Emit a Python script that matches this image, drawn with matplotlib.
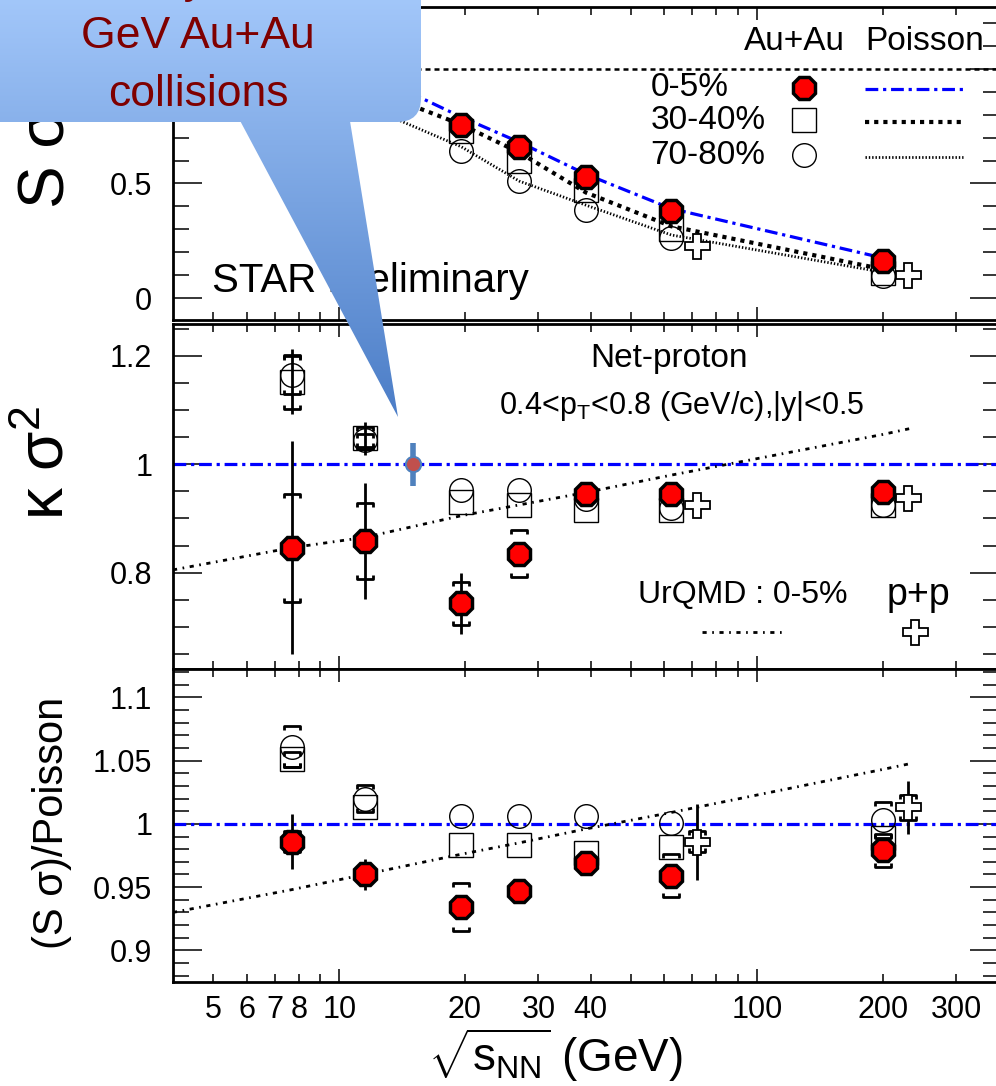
import numpy as np
import matplotlib
matplotlib.use("Agg")
import matplotlib.pyplot as plt
from matplotlib.ticker import FixedLocator, MultipleLocator, FuncFormatter, NullFormatter
from matplotlib.patches import FancyBboxPatch, Polygon
from matplotlib.colors import LinearSegmentedColormap
from matplotlib.path import Path

plt.rcParams['font.family'] = ['Liberation Sans', 'DejaVu Sans']
plt.rcParams['mathtext.fontset'] = 'custom'
plt.rcParams['mathtext.rm'] = 'Liberation Sans'
plt.rcParams['mathtext.it'] = 'Liberation Sans:italic'
plt.rcParams['mathtext.bf'] = 'Liberation Sans:bold'

# beam energies (GeV)
energy = [7.7, 11.5, 19.6, 27, 39, 62.4, 200]
pp_energy = [62.4, 200]
urqmd_energy = [4, 7.7, 11.5, 19.6, 27, 39, 62.4, 200, 236]
proj_energy = [15.0]

# S sigma
ss_0_5 = [0.97, 0.93, 0.757, 0.661, 0.530, 0.378, 0.161]
ss_30_40 = [0.95, 0.90, 0.73, 0.60, 0.47, 0.30, 0.11]
ss_70_80 = [0.92, 0.86, 0.64, 0.51, 0.383, 0.26, 0.096]
ss_pp = [0.226, 0.10]
pois_0_5 = [1.12, 0.99, 0.79, 0.68, 0.54, 0.39, 0.175]
pois_30_40 = [1.04, 0.92, 0.757, 0.635, 0.46, 0.313, 0.126]
pois_70_80 = [0.96, 0.84, 0.66, 0.51, 0.405, 0.275, 0.113]

# kappa sigma^2 (0 = no visible error)
ks_0_5 = [0.846, 0.859, 0.743, 0.835, 0.946, 0.946, 0.948]
ks_0_5_stat = [0.197, 0.107, 0.057, 0.02, 0.01, 0.01, 0.01]
ks_0_5_sys = [0.10, 0.07, 0.04, 0.043, 0, 0, 0]
ks_30_40 = [1.152, 1.048, 0.93, 0.924, 0.915, 0.915, 0.924]
ks_30_40_stat = [0.06, 0.03, 0, 0, 0, 0, 0]
ks_30_40_sys = [0.05, 0.02, 0, 0, 0, 0, 0]
ks_70_80 = [1.165, 1.044, 0.952, 0.952, 0.935, 0.92, 0.924]
ks_70_80_sys = [0.035, 0.012, 0, 0, 0, 0, 0]
ks_pp = [0.924, 0.937]
urqmd_ks = [0.805, 0.846, 0.865, 0.905, 0.925, 0.948, 0.98, 1.055, 1.067]
proj_ks = [1.0]
proj_ks_err = [0.04]

# S sigma / Poisson
sp_0_5 = [0.986, 0.960, 0.934, 0.947, 0.969, 0.959, 0.979]
sp_0_5_stat = [0.022, 0.012, 0.004, 0.004, 0.004, 0.004, 0.004]
sp_0_5_sys = [0.008, 0, 0.019, 0, 0, 0.017, 0.013]
sp_30_40 = [1.051, 1.013, 0.983, 0.983, 0.977, 0.982, 0.989]
sp_30_40_sys = [0.006, 0, 0, 0, 0, 0, 0]
sp_70_80 = [1.061, 1.020, 1.006, 1.006, 1.006, 1.001, 1.003]
sp_70_80_sys = [0.016, 0.011, 0, 0, 0, 0, 0.014]
sp_pp = [0.986, 1.013]
sp_pp_stat = [0.03, 0.021]
sp_pp_sys = [0.008, 0.01]
urqmd_sp = [0.930, 0.948, 0.960, 0.976, 0.985, 0.996, 1.009, 1.043, 1.048]

pp_x = np.array(pp_energy) * 1.15

fig = plt.figure(figsize=(9.96, 10.86), dpi=100)
W = 996.0
H = 1086.0


def add_panel(top_px, bot_px):
    return fig.add_axes([173 / W, 1 - bot_px / H, (999 - 173) / W, (bot_px - top_px) / H])


ax1 = add_panel(7, 320)
ax2 = add_panel(324, 669)
ax3 = add_panel(669, 982)

label_x = [5, 6, 7, 8, 20, 30, 40, 200, 300]
for ax in (ax1, ax2, ax3):
    ax.set_xscale('log')
    ax.set_xlim(4, 380)
    ax.xaxis.set_major_locator(FixedLocator([10, 100]))
    ax.xaxis.set_minor_locator(FixedLocator([5, 6, 7, 8, 9, 20, 30, 40, 50, 60, 70, 80, 90, 200, 300]))
    ax.xaxis.set_major_formatter(NullFormatter())
    ax.xaxis.set_minor_formatter(NullFormatter())
    ax.tick_params(axis='x', which='major', direction='in', length=9.5, width=1.1,
                   top=True, bottom=True, pad=9, labelsize=22)
    ax.tick_params(axis='x', which='minor', direction='in', length=6, width=1.1,
                   top=True, bottom=True, pad=9, labelsize=22)
    ax.tick_params(axis='y', which='major', direction='in', length=21, width=1.1,
                   left=True, right=True, pad=15, labelsize=22)
    ax.tick_params(axis='y', which='minor', direction='in', length=11.5, width=1.1,
                   left=True, right=True)
    ax.yaxis.set_major_formatter(FuncFormatter(lambda v, p: '%g' % round(v, 3)))
    for s in ax.spines.values():
        s.set_linewidth(2.0)

ax3.xaxis.set_major_formatter(FuncFormatter(lambda v, p: '%g' % v))
ax3.xaxis.set_minor_formatter(FuncFormatter(lambda v, p: '%g' % v if round(v) in label_x else ''))

red_kw = dict(marker='8', ms=17, mfc='red', mec='black', mew=2.5, ls='none', zorder=6)
sq_kw = dict(marker='s', ms=17, mfc='none', mec='black', mew=1, ls='none', zorder=4)
ci_kw = dict(marker='o', ms=17, mfc='none', mec='black', mew=1, ls='none', zorder=4)
pp_kw = dict(marker='P', ms=18, mfc='white', mec='black', mew=1.3, ls='none', zorder=5)

dashdot = (0, (4, 1.5, 1, 1.5))
urqmd_ls = (0, (1.5, 2, 0.6, 2))

# bracket shaped markers for systematic errors
cap_up = Path([(-1, -0.45), (-1, 0), (1, 0), (1, -0.45)],
              [Path.MOVETO, Path.LINETO, Path.LINETO, Path.LINETO])
cap_dn = Path([(-1, 0.45), (-1, 0), (1, 0), (1, 0.45)],
              [Path.MOVETO, Path.LINETO, Path.LINETO, Path.LINETO])


def sys_brackets(ax, x, y, err, z=5):
    x = np.array(x)
    y = np.array(y)
    err = np.array(err)
    m = err > 0
    ax.plot(x[m], y[m] + err[m], marker=cap_up, ms=12, mfc='none', mec='black', mew=2,
            ls='none', zorder=z)
    ax.plot(x[m], y[m] - err[m], marker=cap_dn, ms=12, mfc='none', mec='black', mew=2,
            ls='none', zorder=z)


def stat_bars(ax, x, y, err, z=5):
    x = np.array(x)
    y = np.array(y)
    err = np.array(err)
    m = err > 0
    ax.errorbar(x[m], y[m], yerr=err[m], fmt='none', ecolor='black', elinewidth=2,
                capsize=0, zorder=z)


# ---------- top panel: S sigma ----------
ax1.set_ylim(-0.096, 1.27)
ax1.yaxis.set_major_locator(MultipleLocator(0.5))
ax1.yaxis.set_minor_locator(MultipleLocator(0.1))
ax1.axhline(1.0, color='black', lw=1.8, ls=(0, (2, 1.6)), zorder=2)
ax1.plot(energy, pois_0_5, color='blue', lw=2.3, ls=dashdot, zorder=3)
ax1.plot(energy, pois_30_40, color='black', lw=3, ls=(0, (1, 1.2)), zorder=3)
ax1.plot(energy, pois_70_80, color='black', lw=2, ls=(0, (0.5, 0.7)), zorder=3)
ax1.plot(energy, ss_30_40, **sq_kw)
ax1.plot(energy, ss_70_80, **ci_kw)
ax1.plot(energy, ss_0_5, **red_kw)
ax1.plot(pp_x, ss_pp, **pp_kw)

ax1.text(0.047, 0.089, 'STAR Preliminary', transform=ax1.transAxes, fontsize=29,
         ha='left', va='baseline')
ax1.text(0.752, 0.889, 'Au+Au', transform=ax1.transAxes, fontsize=24, ha='center', va='center')
ax1.text(0.910, 0.889, 'Poisson', transform=ax1.transAxes, fontsize=24, ha='center', va='center')
leg_rows = [('0-5%', red_kw, dict(color='blue', lw=2.3, ls=dashdot)),
            ('30-40%', sq_kw, dict(color='black', lw=3, ls=(0, (1, 1.2)))),
            ('70-80%', ci_kw, dict(color='black', lw=2, ls=(0, (0.5, 0.7))))]
for (lab, mkw, lkw), yy in zip(leg_rows, [0.742, 0.638, 0.527]):
    ax1.text(0.578, yy, lab, transform=ax1.transAxes, fontsize=24, ha='left', va='center')
    ax1.plot([0.764], [yy], transform=ax1.transAxes, clip_on=False, **mkw)
    ax1.plot([0.838, 0.956], [yy - 0.005, yy - 0.005], transform=ax1.transAxes, **lkw)

# ---------- middle panel: kappa sigma^2 ----------
ax2.set_ylim(0.622, 1.259)
ax2.yaxis.set_major_locator(MultipleLocator(0.2))
ax2.yaxis.set_minor_locator(MultipleLocator(0.05))
ax2.axhline(1.0, color='blue', lw=2.3, ls=dashdot, zorder=2)
ax2.plot(urqmd_energy, urqmd_ks, color='black', lw=2, ls=urqmd_ls, zorder=3)
stat_bars(ax2, energy, ks_30_40, ks_30_40_stat, z=4)
sys_brackets(ax2, energy, ks_30_40, ks_30_40_sys, z=4)
sys_brackets(ax2, energy, ks_70_80, ks_70_80_sys, z=4)
ax2.plot(energy, ks_30_40, **sq_kw)
ax2.plot(energy, ks_70_80, **ci_kw)
stat_bars(ax2, energy, ks_0_5, ks_0_5_stat)
sys_brackets(ax2, energy, ks_0_5, ks_0_5_sys)
ax2.plot(energy, ks_0_5, **red_kw)
ax2.plot(pp_x, ks_pp, **pp_kw)
ax2.errorbar(proj_energy, proj_ks, yerr=proj_ks_err, fmt='o', ms=11, mfc='#c0504d',
             mec='#4f81bd', mew=1.5, ecolor='#4f81bd', elinewidth=4, capsize=0, zorder=7)

ax2.text(0.601, 0.899, 'Net-proton', transform=ax2.transAxes, fontsize=24, ha='center', va='center')
ax2.text(0.616, 0.763, r'0.4<p$_{\rm T}$<0.8 (GeV/c),|y|<0.5', transform=ax2.transAxes,
         fontsize=22, ha='center', va='center')
ax2.text(0.690, 0.214, 'UrQMD : 0-5%', transform=ax2.transAxes, fontsize=23, ha='center', va='center')
ax2.text(0.902, 0.214, 'p+p', transform=ax2.transAxes, fontsize=27, ha='center', va='center')
ax2.plot([0.640, 0.741], [0.107, 0.107], transform=ax2.transAxes, color='black', lw=2, ls=urqmd_ls)
ax2.plot([0.898], [0.107], transform=ax2.transAxes, **pp_kw)

# ---------- bottom panel: S sigma / Poisson ----------
ax3.set_ylim(0.875, 1.1224)
ax3.yaxis.set_major_locator(MultipleLocator(0.05))
ax3.yaxis.set_minor_locator(MultipleLocator(0.01))
ax3.axhline(1.0, color='blue', lw=2.3, ls=dashdot, zorder=2)
ax3.plot(urqmd_energy, urqmd_sp, color='black', lw=2, ls=urqmd_ls, zorder=3)
sys_brackets(ax3, energy, sp_30_40, sp_30_40_sys, z=4)
sys_brackets(ax3, energy, sp_70_80, sp_70_80_sys, z=4)
ax3.plot(energy, sp_30_40, **sq_kw)
ax3.plot(energy, sp_70_80, **ci_kw)
stat_bars(ax3, energy, sp_0_5, sp_0_5_stat)
sys_brackets(ax3, energy, sp_0_5, sp_0_5_sys)
ax3.plot(energy, sp_0_5, **red_kw)
stat_bars(ax3, pp_x, sp_pp, sp_pp_stat)
sys_brackets(ax3, pp_x, sp_pp, sp_pp_sys)
ax3.plot(pp_x, sp_pp, **pp_kw)

# axis titles
fig.text(0.048, 1 - 208 / H, 'S σ', rotation=90, fontsize=46, ha='center', va='bottom')
fig.text(0.047, 1 - 463 / H, r'κ σ$^{2}$', rotation=90, fontsize=46, ha='center', va='center')
fig.text(0.052, 1 - 823 / H, '(S σ)/Poisson', rotation=90, fontsize=30, ha='center', va='center')
fig.text(683 / W, 1 - 1055 / H, r'$\sqrt{\mathrm{s}_{\mathrm{NN}}}$ (GeV)', fontsize=33,
         ha='right', va='center')

# ---------- callout overlay ----------
ov = fig.add_axes([0, 0, 1, 1], zorder=10)
ov.axis('off')
cmap = LinearSegmentedColormap.from_list('callout', ['#a6cafc', '#4a7cc6'])
grad = np.linspace(0, 1, 256).reshape(-1, 1)
box = FancyBboxPatch((-30, -80), 451, 202, boxstyle='round,pad=0,rounding_size=24',
                     facecolor='none', edgecolor='none')
tail = Polygon([[237, 115], [349, 115], [398, 417]], closed=True, facecolor='none', edgecolor='none')
for shape in (box, tail):
    ov.add_patch(shape)
    im = ov.imshow(grad, extent=(-40, 440, 425, -20), aspect='auto', cmap=cmap, zorder=1)
    im.set_clip_path(shape)
ov.set_xlim(0, W)
ov.set_ylim(H, 0)
for txt, yy in [('Study 14.5', -18), ('GeV Au+Au', 36), ('collisions', 94)]:
    ov.text(198, yy, txt, fontsize=32, color='#7f0000', ha='center', va='center', zorder=3)

fig.savefig('out.png', dpi=100)
